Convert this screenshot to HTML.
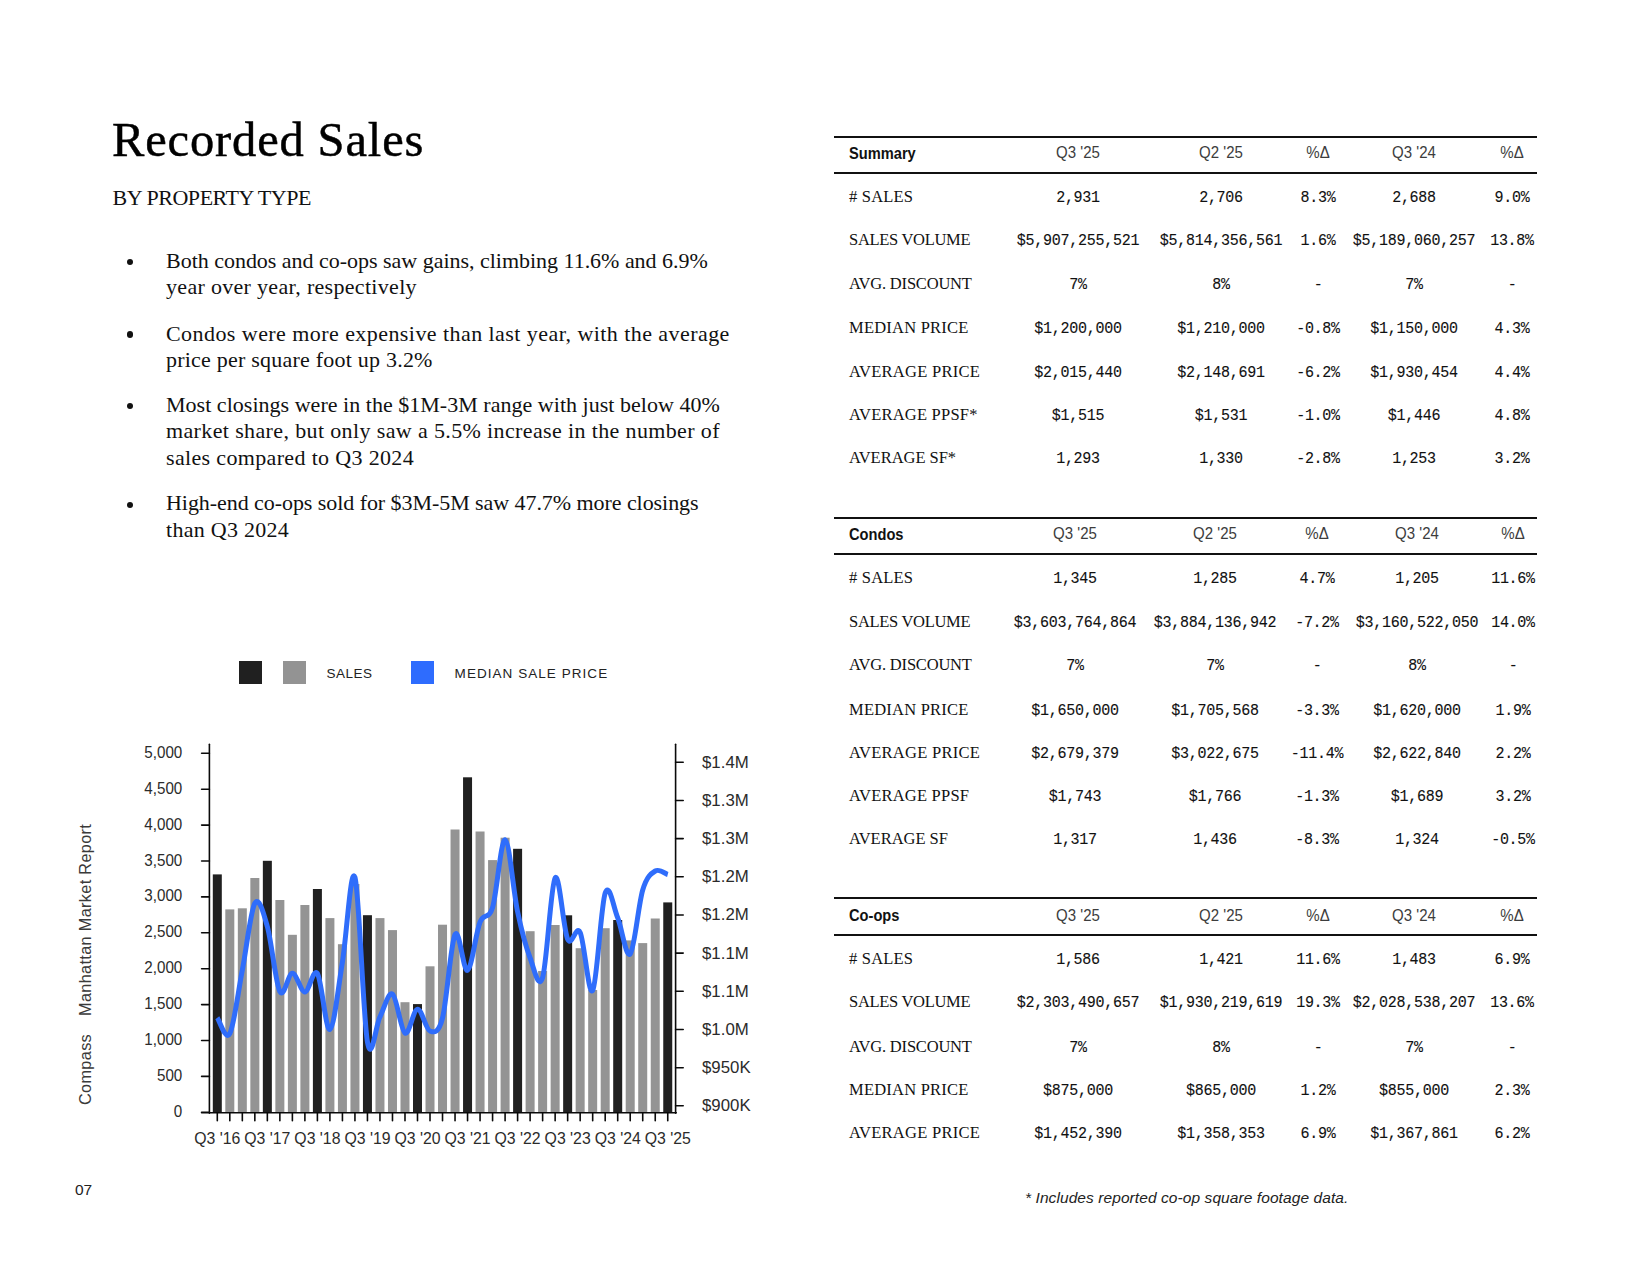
<!DOCTYPE html>
<html lang="en"><head><meta charset="utf-8"><title>Recorded Sales</title>
<style>
html,body{margin:0;padding:0;background:#fff;}
body{width:1650px;height:1275px;position:relative;overflow:hidden;font-family:"Liberation Sans",sans-serif;}
.t{position:absolute;white-space:pre;margin:0;}
.bul{list-style:none;margin:0;padding:0;}
.dot{position:absolute;width:6.4px;height:6.4px;border-radius:50%;background:#111;}
.sq{position:absolute;width:22.9px;height:22.7px;}
.chart{position:absolute;left:100px;top:720px;}
.vert{transform-origin:0 0;transform:rotate(-90deg);}
.rule{position:absolute;left:834.4px;width:703px;height:2px;background:#111;}
</style></head><body>
<h1 class="t" style="margin:0;left:112px;top:115.2px;font-family:'Liberation Serif',serif;font-size:48.5px;line-height:50px;font-weight:normal;letter-spacing:0.85px;color:#000;-webkit-text-stroke:0.45px #000">Recorded Sales</h1>
<h2 class="t" style="margin:0;left:112.5px;top:184.8px;font-family:'Liberation Serif',serif;font-size:22px;line-height:26px;font-weight:normal;letter-spacing:-0.45px;color:#111">BY PROPERTY TYPE</h2>
<ul class="bul">
<li>
<span class="dot" style="left:126.5px;top:259.1px"></span>
<div class="t " style="left:166.00px;top:248.10px;font-family:'Liberation Serif',serif;font-size:22px;line-height:26px;color:#111;letter-spacing:-0.021px">Both condos and co-ops saw gains, climbing 11.6% and 6.9%</div>
<div class="t " style="left:166.00px;top:273.70px;font-family:'Liberation Serif',serif;font-size:22px;line-height:26px;color:#111;letter-spacing:0.311px">year over year, respectively</div>
</li>
<li>
<span class="dot" style="left:126.5px;top:331.4px"></span>
<div class="t " style="left:166.00px;top:320.80px;font-family:'Liberation Serif',serif;font-size:22px;line-height:26px;color:#111;letter-spacing:0.438px">Condos were more expensive than last year, with the average</div>
<div class="t " style="left:166.00px;top:347.10px;font-family:'Liberation Serif',serif;font-size:22px;line-height:26px;color:#111;letter-spacing:0.221px">price per square foot up 3.2%</div>
</li>
<li>
<span class="dot" style="left:126.5px;top:403.1px"></span>
<div class="t " style="left:166.00px;top:391.70px;font-family:'Liberation Serif',serif;font-size:22px;line-height:26px;color:#111;letter-spacing:0.025px">Most closings were in the $1M-3M range with just below 40%</div>
<div class="t " style="left:166.00px;top:418.10px;font-family:'Liberation Serif',serif;font-size:22px;line-height:26px;color:#111;letter-spacing:0.369px">market share, but only saw a 5.5% increase in the number of</div>
<div class="t " style="left:166.00px;top:444.50px;font-family:'Liberation Serif',serif;font-size:22px;line-height:26px;color:#111;letter-spacing:0.342px">sales compared to Q3 2024</div>
</li>
<li>
<span class="dot" style="left:126.5px;top:501.6px"></span>
<div class="t " style="left:166.00px;top:490.10px;font-family:'Liberation Serif',serif;font-size:22px;line-height:26px;color:#111;letter-spacing:-0.061px">High-end co-ops sold for $3M-5M saw 47.7% more closings</div>
<div class="t " style="left:166.00px;top:516.60px;font-family:'Liberation Serif',serif;font-size:22px;line-height:26px;color:#111;letter-spacing:0.282px">than Q3 2024</div>
</li>
</ul>
<div class="legend">
<span class="sq" style="left:239.1px;top:661.1px;background:#202020"></span>
<span class="sq" style="left:283px;top:661.1px;background:#939393"></span>
<span class="sq" style="left:411px;top:661.1px;background:#2e6cfe"></span>
<div class="t " style="left:326.60px;top:664.00px;font-family:'Liberation Sans',sans-serif;font-size:13.5px;line-height:20px;letter-spacing:0.5px;color:#222">SALES</div>
<div class="t " style="left:454.60px;top:664.00px;font-family:'Liberation Sans',sans-serif;font-size:13.5px;line-height:20px;letter-spacing:1.05px;color:#222">MEDIAN SALE PRICE</div>
</div>
<svg class="chart" width="700" height="460" viewBox="100 720 700 460">
<rect x="212.80" y="874.4" width="9.0" height="238.2" fill="#202020"/>
<rect x="225.31" y="909.4" width="9.0" height="203.2" fill="#949494"/>
<rect x="237.83" y="908.3" width="9.0" height="204.3" fill="#949494"/>
<rect x="250.34" y="878.0" width="9.0" height="234.6" fill="#949494"/>
<rect x="262.85" y="860.8" width="9.0" height="251.8" fill="#202020"/>
<rect x="275.36" y="900.0" width="9.0" height="212.6" fill="#949494"/>
<rect x="287.88" y="934.8" width="9.0" height="177.8" fill="#949494"/>
<rect x="300.39" y="905.0" width="9.0" height="207.6" fill="#949494"/>
<rect x="312.90" y="889.0" width="9.0" height="223.6" fill="#202020"/>
<rect x="325.41" y="918.1" width="9.0" height="194.5" fill="#949494"/>
<rect x="337.93" y="944.2" width="9.0" height="168.4" fill="#949494"/>
<rect x="350.44" y="884.0" width="9.0" height="228.6" fill="#949494"/>
<rect x="362.95" y="915.2" width="9.0" height="197.4" fill="#202020"/>
<rect x="375.46" y="918.1" width="9.0" height="194.5" fill="#949494"/>
<rect x="387.98" y="930.1" width="9.0" height="182.5" fill="#949494"/>
<rect x="400.49" y="1002.2" width="9.0" height="110.4" fill="#949494"/>
<rect x="413.00" y="1004.1" width="9.0" height="108.5" fill="#202020"/>
<rect x="425.51" y="966.3" width="9.0" height="146.3" fill="#949494"/>
<rect x="438.02" y="924.7" width="9.0" height="187.9" fill="#949494"/>
<rect x="450.54" y="829.5" width="9.0" height="283.1" fill="#949494"/>
<rect x="463.05" y="777.3" width="9.0" height="335.3" fill="#202020"/>
<rect x="475.56" y="831.5" width="9.0" height="281.1" fill="#949494"/>
<rect x="488.07" y="860.1" width="9.0" height="252.5" fill="#949494"/>
<rect x="500.59" y="837.7" width="9.0" height="274.9" fill="#949494"/>
<rect x="513.10" y="848.8" width="9.0" height="263.8" fill="#202020"/>
<rect x="525.61" y="931.2" width="9.0" height="181.4" fill="#949494"/>
<rect x="538.12" y="971.0" width="9.0" height="141.6" fill="#949494"/>
<rect x="550.64" y="925.0" width="9.0" height="187.6" fill="#949494"/>
<rect x="563.15" y="915.3" width="9.0" height="197.3" fill="#202020"/>
<rect x="575.66" y="948.2" width="9.0" height="164.4" fill="#949494"/>
<rect x="588.17" y="990.0" width="9.0" height="122.6" fill="#949494"/>
<rect x="600.69" y="928.2" width="9.0" height="184.4" fill="#949494"/>
<rect x="613.20" y="920.0" width="9.0" height="192.6" fill="#202020"/>
<rect x="625.71" y="940.4" width="9.0" height="172.2" fill="#949494"/>
<rect x="638.22" y="943.1" width="9.0" height="169.5" fill="#949494"/>
<rect x="650.74" y="918.5" width="9.0" height="194.1" fill="#949494"/>
<rect x="663.25" y="902.4" width="9.0" height="210.2" fill="#202020"/>
<g stroke="#0a0a0a" stroke-width="1.6" fill="none" stroke-linecap="round">
<line x1="209.4" y1="744.2" x2="209.4" y2="1113.3"/>
<line x1="675.6" y1="744.2" x2="675.6" y2="1113.3"/>
<line x1="201.6" y1="1112.8" x2="676.3" y2="1112.8"/>
<line x1="201.6" y1="753.3" x2="209.4" y2="753.3"/>
<line x1="201.6" y1="789.2" x2="209.4" y2="789.2"/>
<line x1="201.6" y1="825.1" x2="209.4" y2="825.1"/>
<line x1="201.6" y1="861.0" x2="209.4" y2="861.0"/>
<line x1="201.6" y1="896.9" x2="209.4" y2="896.9"/>
<line x1="201.6" y1="932.8" x2="209.4" y2="932.8"/>
<line x1="201.6" y1="968.7" x2="209.4" y2="968.7"/>
<line x1="201.6" y1="1004.6" x2="209.4" y2="1004.6"/>
<line x1="201.6" y1="1040.5" x2="209.4" y2="1040.5"/>
<line x1="201.6" y1="1076.4" x2="209.4" y2="1076.4"/>
<line x1="201.6" y1="1112.3" x2="209.4" y2="1112.3"/>
<line x1="675.6" y1="762.3" x2="683.2" y2="762.3"/>
<line x1="675.6" y1="800.5" x2="683.2" y2="800.5"/>
<line x1="675.6" y1="838.6" x2="683.2" y2="838.6"/>
<line x1="675.6" y1="876.8" x2="683.2" y2="876.8"/>
<line x1="675.6" y1="915.0" x2="683.2" y2="915.0"/>
<line x1="675.6" y1="953.1" x2="683.2" y2="953.1"/>
<line x1="675.6" y1="991.3" x2="683.2" y2="991.3"/>
<line x1="675.6" y1="1029.5" x2="683.2" y2="1029.5"/>
<line x1="675.6" y1="1067.7" x2="683.2" y2="1067.7"/>
<line x1="675.6" y1="1105.8" x2="683.2" y2="1105.8"/>
<line x1="217.30" y1="1113" x2="217.30" y2="1120.8"/>
<line x1="229.81" y1="1113" x2="229.81" y2="1120.8"/>
<line x1="242.33" y1="1113" x2="242.33" y2="1120.8"/>
<line x1="254.84" y1="1113" x2="254.84" y2="1120.8"/>
<line x1="267.35" y1="1113" x2="267.35" y2="1120.8"/>
<line x1="279.86" y1="1113" x2="279.86" y2="1120.8"/>
<line x1="292.38" y1="1113" x2="292.38" y2="1120.8"/>
<line x1="304.89" y1="1113" x2="304.89" y2="1120.8"/>
<line x1="317.40" y1="1113" x2="317.40" y2="1120.8"/>
<line x1="329.91" y1="1113" x2="329.91" y2="1120.8"/>
<line x1="342.43" y1="1113" x2="342.43" y2="1120.8"/>
<line x1="354.94" y1="1113" x2="354.94" y2="1120.8"/>
<line x1="367.45" y1="1113" x2="367.45" y2="1120.8"/>
<line x1="379.96" y1="1113" x2="379.96" y2="1120.8"/>
<line x1="392.48" y1="1113" x2="392.48" y2="1120.8"/>
<line x1="404.99" y1="1113" x2="404.99" y2="1120.8"/>
<line x1="417.50" y1="1113" x2="417.50" y2="1120.8"/>
<line x1="430.01" y1="1113" x2="430.01" y2="1120.8"/>
<line x1="442.52" y1="1113" x2="442.52" y2="1120.8"/>
<line x1="455.04" y1="1113" x2="455.04" y2="1120.8"/>
<line x1="467.55" y1="1113" x2="467.55" y2="1120.8"/>
<line x1="480.06" y1="1113" x2="480.06" y2="1120.8"/>
<line x1="492.57" y1="1113" x2="492.57" y2="1120.8"/>
<line x1="505.09" y1="1113" x2="505.09" y2="1120.8"/>
<line x1="517.60" y1="1113" x2="517.60" y2="1120.8"/>
<line x1="530.11" y1="1113" x2="530.11" y2="1120.8"/>
<line x1="542.62" y1="1113" x2="542.62" y2="1120.8"/>
<line x1="555.14" y1="1113" x2="555.14" y2="1120.8"/>
<line x1="567.65" y1="1113" x2="567.65" y2="1120.8"/>
<line x1="580.16" y1="1113" x2="580.16" y2="1120.8"/>
<line x1="592.67" y1="1113" x2="592.67" y2="1120.8"/>
<line x1="605.19" y1="1113" x2="605.19" y2="1120.8"/>
<line x1="617.70" y1="1113" x2="617.70" y2="1120.8"/>
<line x1="630.21" y1="1113" x2="630.21" y2="1120.8"/>
<line x1="642.72" y1="1113" x2="642.72" y2="1120.8"/>
<line x1="655.24" y1="1113" x2="655.24" y2="1120.8"/>
<line x1="667.75" y1="1113" x2="667.75" y2="1120.8"/>
</g>
<path d="M217.30,1017.70 C219.39,1020.35 225.64,1041.55 229.81,1033.60 C233.98,1025.65 238.15,991.72 242.33,970.00 C246.50,948.28 250.67,910.53 254.84,903.30 C259.01,896.07 263.18,911.90 267.35,926.60 C271.52,941.30 275.69,983.73 279.86,991.50 C284.03,999.27 288.20,973.12 292.38,973.20 C296.55,973.28 300.72,991.95 304.89,992.00 C309.06,992.05 313.23,967.25 317.40,973.50 C321.57,979.75 325.74,1031.42 329.91,1029.50 C334.08,1027.58 338.25,987.37 342.43,962.00 C346.60,936.63 350.77,863.97 354.94,877.30 C359.11,890.63 363.28,1018.73 367.45,1042.00 C371.62,1065.27 375.79,1024.90 379.96,1016.90 C384.13,1008.90 388.30,991.32 392.48,994.00 C396.65,996.68 400.82,1030.47 404.99,1033.00 C409.16,1035.53 413.33,1009.53 417.50,1009.20 C421.67,1008.87 425.84,1029.53 430.01,1031.00 C434.18,1032.47 438.35,1034.08 442.52,1018.00 C446.70,1001.92 450.87,942.45 455.04,934.50 C459.21,926.55 463.38,972.38 467.55,970.30 C471.72,968.22 475.89,932.47 480.06,922.00 C484.23,911.53 488.40,921.20 492.57,907.50 C496.75,893.80 500.92,839.08 505.09,839.80 C509.26,840.52 513.43,892.10 517.60,911.80 C521.77,931.50 525.94,947.05 530.11,958.00 C534.28,968.95 538.45,990.85 542.62,977.50 C546.80,964.15 550.97,884.30 555.14,877.90 C559.31,871.50 563.48,930.00 567.65,939.10 C571.82,948.20 575.99,923.93 580.16,932.50 C584.33,941.07 588.50,997.08 592.67,990.50 C596.85,983.92 601.02,905.12 605.19,893.00 C609.36,880.88 613.53,907.63 617.70,917.80 C621.87,927.97 626.04,958.63 630.21,954.00 C634.38,949.37 638.55,903.83 642.72,890.00 C646.90,876.17 651.07,873.58 655.24,871.00 C659.41,868.42 665.66,873.92 667.75,874.50" fill="none" stroke="#2f6dfb" stroke-width="5" stroke-linejoin="round"/>
<g font-family="Liberation Sans, sans-serif" font-size="16.5" fill="#2b2b2b">
<text transform="translate(182.3,757.8) scale(0.92,1)" text-anchor="end">5,000</text>
<text transform="translate(182.3,793.7) scale(0.92,1)" text-anchor="end">4,500</text>
<text transform="translate(182.3,829.6) scale(0.92,1)" text-anchor="end">4,000</text>
<text transform="translate(182.3,865.5) scale(0.92,1)" text-anchor="end">3,500</text>
<text transform="translate(182.3,901.4) scale(0.92,1)" text-anchor="end">3,000</text>
<text transform="translate(182.3,937.3) scale(0.92,1)" text-anchor="end">2,500</text>
<text transform="translate(182.3,973.2) scale(0.92,1)" text-anchor="end">2,000</text>
<text transform="translate(182.3,1009.1) scale(0.92,1)" text-anchor="end">1,500</text>
<text transform="translate(182.3,1045.0) scale(0.92,1)" text-anchor="end">1,000</text>
<text transform="translate(182.3,1080.9) scale(0.92,1)" text-anchor="end">500</text>
<text transform="translate(182.3,1116.8) scale(0.92,1)" text-anchor="end">0</text>
<text transform="translate(702,767.7) scale(1.02,1)">$1.4M</text>
<text transform="translate(702,805.9) scale(1.02,1)">$1.3M</text>
<text transform="translate(702,844.0) scale(1.02,1)">$1.3M</text>
<text transform="translate(702,882.2) scale(1.02,1)">$1.2M</text>
<text transform="translate(702,920.4) scale(1.02,1)">$1.2M</text>
<text transform="translate(702,958.5) scale(1.02,1)">$1.1M</text>
<text transform="translate(702,996.7) scale(1.02,1)">$1.1M</text>
<text transform="translate(702,1034.9) scale(1.02,1)">$1.0M</text>
<text transform="translate(702,1073.1) scale(1.02,1)">$950K</text>
<text transform="translate(702,1111.2) scale(1.02,1)">$900K</text>
<text transform="translate(217.30,1143.8) scale(0.96,1)" text-anchor="middle">Q3 &#39;16</text>
<text transform="translate(267.35,1143.8) scale(0.96,1)" text-anchor="middle">Q3 &#39;17</text>
<text transform="translate(317.40,1143.8) scale(0.96,1)" text-anchor="middle">Q3 &#39;18</text>
<text transform="translate(367.45,1143.8) scale(0.96,1)" text-anchor="middle">Q3 &#39;19</text>
<text transform="translate(417.50,1143.8) scale(0.96,1)" text-anchor="middle">Q3 &#39;20</text>
<text transform="translate(467.55,1143.8) scale(0.96,1)" text-anchor="middle">Q3 &#39;21</text>
<text transform="translate(517.60,1143.8) scale(0.96,1)" text-anchor="middle">Q3 &#39;22</text>
<text transform="translate(567.65,1143.8) scale(0.96,1)" text-anchor="middle">Q3 &#39;23</text>
<text transform="translate(617.70,1143.8) scale(0.96,1)" text-anchor="middle">Q3 &#39;24</text>
<text transform="translate(667.75,1143.8) scale(0.96,1)" text-anchor="middle">Q3 &#39;25</text>
</g></svg>
<div class="t vert" style="left:75.2px;top:1015.5px;font-family:'Liberation Sans',sans-serif;font-size:16.3px;line-height:20px;letter-spacing:0.33px;color:#3a3a3a">Manhattan Market Report</div>
<div class="t vert" style="left:75.2px;top:1104.5px;font-family:'Liberation Sans',sans-serif;font-size:16.3px;line-height:20px;letter-spacing:0.33px;color:#3a3a3a">Compass</div>
<div class="t " style="left:75.00px;top:1180.10px;font-family:'Liberation Sans',sans-serif;font-size:15.5px;line-height:20px;color:#222">07</div>
<div class="tbl">
<div class="rule" style="top:136px"></div>
<div class="rule" style="top:172px"></div>
<div class="t " style="left:849.00px;top:143.50px;font-family:'Liberation Sans',sans-serif;font-size:16px;line-height:20px;font-weight:bold;color:#111;transform:scaleX(0.915);transform-origin:0 0">Summary</div>
<div class="t" style="left:928.10px;width:300px;text-align:center;top:142.70px;font-family:'Liberation Sans',sans-serif;font-size:16.7px;line-height:20px;color:#3d3d3d;transform:scaleX(0.9)">Q3 &#39;25</div>
<div class="t" style="left:1071.00px;width:300px;text-align:center;top:142.70px;font-family:'Liberation Sans',sans-serif;font-size:16.7px;line-height:20px;color:#3d3d3d;transform:scaleX(0.9)">Q2 &#39;25</div>
<div class="t" style="left:1167.80px;width:300px;text-align:center;top:142.70px;font-family:'Liberation Sans',sans-serif;font-size:16.7px;line-height:20px;color:#3d3d3d;transform:scaleX(0.9)">%Δ</div>
<div class="t" style="left:1264.40px;width:300px;text-align:center;top:142.70px;font-family:'Liberation Sans',sans-serif;font-size:16.7px;line-height:20px;color:#3d3d3d;transform:scaleX(0.9)">Q3 &#39;24</div>
<div class="t" style="left:1362.20px;width:300px;text-align:center;top:142.70px;font-family:'Liberation Sans',sans-serif;font-size:16.7px;line-height:20px;color:#3d3d3d;transform:scaleX(0.9)">%Δ</div>
<div class="t " style="left:849.00px;top:186.90px;font-family:'Liberation Serif',serif;font-size:16.5px;line-height:20px;letter-spacing:0.20px;color:#111"># SALES</div>
<div class="t" style="left:928.10px;width:300px;text-align:center;top:187.90px;font-family:'Liberation Mono',monospace;font-size:16.7px;line-height:20px;letter-spacing:-0.3px;color:#111;transform:scaleX(0.9);-webkit-text-stroke:0.12px #111">2,931</div>
<div class="t" style="left:1071.00px;width:300px;text-align:center;top:187.90px;font-family:'Liberation Mono',monospace;font-size:16.7px;line-height:20px;letter-spacing:-0.3px;color:#111;transform:scaleX(0.9);-webkit-text-stroke:0.12px #111">2,706</div>
<div class="t" style="left:1167.80px;width:300px;text-align:center;top:187.90px;font-family:'Liberation Mono',monospace;font-size:16.7px;line-height:20px;letter-spacing:-0.3px;color:#111;transform:scaleX(0.9);-webkit-text-stroke:0.12px #111">8.3%</div>
<div class="t" style="left:1264.40px;width:300px;text-align:center;top:187.90px;font-family:'Liberation Mono',monospace;font-size:16.7px;line-height:20px;letter-spacing:-0.3px;color:#111;transform:scaleX(0.9);-webkit-text-stroke:0.12px #111">2,688</div>
<div class="t" style="left:1362.20px;width:300px;text-align:center;top:187.90px;font-family:'Liberation Mono',monospace;font-size:16.7px;line-height:20px;letter-spacing:-0.3px;color:#111;transform:scaleX(0.9);-webkit-text-stroke:0.12px #111">9.0%</div>
<div class="t " style="left:849.00px;top:229.80px;font-family:'Liberation Serif',serif;font-size:16.5px;line-height:20px;letter-spacing:-0.30px;color:#111">SALES VOLUME</div>
<div class="t" style="left:928.10px;width:300px;text-align:center;top:230.80px;font-family:'Liberation Mono',monospace;font-size:16.7px;line-height:20px;letter-spacing:-0.3px;color:#111;transform:scaleX(0.9);-webkit-text-stroke:0.12px #111">$5,907,255,521</div>
<div class="t" style="left:1071.00px;width:300px;text-align:center;top:230.80px;font-family:'Liberation Mono',monospace;font-size:16.7px;line-height:20px;letter-spacing:-0.3px;color:#111;transform:scaleX(0.9);-webkit-text-stroke:0.12px #111">$5,814,356,561</div>
<div class="t" style="left:1167.80px;width:300px;text-align:center;top:230.80px;font-family:'Liberation Mono',monospace;font-size:16.7px;line-height:20px;letter-spacing:-0.3px;color:#111;transform:scaleX(0.9);-webkit-text-stroke:0.12px #111">1.6%</div>
<div class="t" style="left:1264.40px;width:300px;text-align:center;top:230.80px;font-family:'Liberation Mono',monospace;font-size:16.7px;line-height:20px;letter-spacing:-0.3px;color:#111;transform:scaleX(0.9);-webkit-text-stroke:0.12px #111">$5,189,060,257</div>
<div class="t" style="left:1362.20px;width:300px;text-align:center;top:230.80px;font-family:'Liberation Mono',monospace;font-size:16.7px;line-height:20px;letter-spacing:-0.3px;color:#111;transform:scaleX(0.9);-webkit-text-stroke:0.12px #111">13.8%</div>
<div class="t " style="left:849.00px;top:273.80px;font-family:'Liberation Serif',serif;font-size:16.5px;line-height:20px;letter-spacing:-0.20px;color:#111">AVG. DISCOUNT</div>
<div class="t" style="left:928.10px;width:300px;text-align:center;top:274.80px;font-family:'Liberation Mono',monospace;font-size:16.7px;line-height:20px;letter-spacing:-0.3px;color:#111;transform:scaleX(0.9);-webkit-text-stroke:0.12px #111">7%</div>
<div class="t" style="left:1071.00px;width:300px;text-align:center;top:274.80px;font-family:'Liberation Mono',monospace;font-size:16.7px;line-height:20px;letter-spacing:-0.3px;color:#111;transform:scaleX(0.9);-webkit-text-stroke:0.12px #111">8%</div>
<div class="t" style="left:1167.80px;width:300px;text-align:center;top:274.80px;font-family:'Liberation Mono',monospace;font-size:16.7px;line-height:20px;letter-spacing:-0.3px;color:#111;transform:scaleX(0.9);-webkit-text-stroke:0.12px #111">-</div>
<div class="t" style="left:1264.40px;width:300px;text-align:center;top:274.80px;font-family:'Liberation Mono',monospace;font-size:16.7px;line-height:20px;letter-spacing:-0.3px;color:#111;transform:scaleX(0.9);-webkit-text-stroke:0.12px #111">7%</div>
<div class="t" style="left:1362.20px;width:300px;text-align:center;top:274.80px;font-family:'Liberation Mono',monospace;font-size:16.7px;line-height:20px;letter-spacing:-0.3px;color:#111;transform:scaleX(0.9);-webkit-text-stroke:0.12px #111">-</div>
<div class="t " style="left:849.00px;top:317.70px;font-family:'Liberation Serif',serif;font-size:16.5px;line-height:20px;letter-spacing:0.22px;color:#111">MEDIAN PRICE</div>
<div class="t" style="left:928.10px;width:300px;text-align:center;top:318.70px;font-family:'Liberation Mono',monospace;font-size:16.7px;line-height:20px;letter-spacing:-0.3px;color:#111;transform:scaleX(0.9);-webkit-text-stroke:0.12px #111">$1,200,000</div>
<div class="t" style="left:1071.00px;width:300px;text-align:center;top:318.70px;font-family:'Liberation Mono',monospace;font-size:16.7px;line-height:20px;letter-spacing:-0.3px;color:#111;transform:scaleX(0.9);-webkit-text-stroke:0.12px #111">$1,210,000</div>
<div class="t" style="left:1167.80px;width:300px;text-align:center;top:318.70px;font-family:'Liberation Mono',monospace;font-size:16.7px;line-height:20px;letter-spacing:-0.3px;color:#111;transform:scaleX(0.9);-webkit-text-stroke:0.12px #111">-0.8%</div>
<div class="t" style="left:1264.40px;width:300px;text-align:center;top:318.70px;font-family:'Liberation Mono',monospace;font-size:16.7px;line-height:20px;letter-spacing:-0.3px;color:#111;transform:scaleX(0.9);-webkit-text-stroke:0.12px #111">$1,150,000</div>
<div class="t" style="left:1362.20px;width:300px;text-align:center;top:318.70px;font-family:'Liberation Mono',monospace;font-size:16.7px;line-height:20px;letter-spacing:-0.3px;color:#111;transform:scaleX(0.9);-webkit-text-stroke:0.12px #111">4.3%</div>
<div class="t " style="left:849.00px;top:361.90px;font-family:'Liberation Serif',serif;font-size:16.5px;line-height:20px;letter-spacing:0.27px;color:#111">AVERAGE PRICE</div>
<div class="t" style="left:928.10px;width:300px;text-align:center;top:362.90px;font-family:'Liberation Mono',monospace;font-size:16.7px;line-height:20px;letter-spacing:-0.3px;color:#111;transform:scaleX(0.9);-webkit-text-stroke:0.12px #111">$2,015,440</div>
<div class="t" style="left:1071.00px;width:300px;text-align:center;top:362.90px;font-family:'Liberation Mono',monospace;font-size:16.7px;line-height:20px;letter-spacing:-0.3px;color:#111;transform:scaleX(0.9);-webkit-text-stroke:0.12px #111">$2,148,691</div>
<div class="t" style="left:1167.80px;width:300px;text-align:center;top:362.90px;font-family:'Liberation Mono',monospace;font-size:16.7px;line-height:20px;letter-spacing:-0.3px;color:#111;transform:scaleX(0.9);-webkit-text-stroke:0.12px #111">-6.2%</div>
<div class="t" style="left:1264.40px;width:300px;text-align:center;top:362.90px;font-family:'Liberation Mono',monospace;font-size:16.7px;line-height:20px;letter-spacing:-0.3px;color:#111;transform:scaleX(0.9);-webkit-text-stroke:0.12px #111">$1,930,454</div>
<div class="t" style="left:1362.20px;width:300px;text-align:center;top:362.90px;font-family:'Liberation Mono',monospace;font-size:16.7px;line-height:20px;letter-spacing:-0.3px;color:#111;transform:scaleX(0.9);-webkit-text-stroke:0.12px #111">4.4%</div>
<div class="t " style="left:849.00px;top:404.50px;font-family:'Liberation Serif',serif;font-size:16.5px;line-height:20px;letter-spacing:0.22px;color:#111">AVERAGE PPSF*</div>
<div class="t" style="left:928.10px;width:300px;text-align:center;top:405.50px;font-family:'Liberation Mono',monospace;font-size:16.7px;line-height:20px;letter-spacing:-0.3px;color:#111;transform:scaleX(0.9);-webkit-text-stroke:0.12px #111">$1,515</div>
<div class="t" style="left:1071.00px;width:300px;text-align:center;top:405.50px;font-family:'Liberation Mono',monospace;font-size:16.7px;line-height:20px;letter-spacing:-0.3px;color:#111;transform:scaleX(0.9);-webkit-text-stroke:0.12px #111">$1,531</div>
<div class="t" style="left:1167.80px;width:300px;text-align:center;top:405.50px;font-family:'Liberation Mono',monospace;font-size:16.7px;line-height:20px;letter-spacing:-0.3px;color:#111;transform:scaleX(0.9);-webkit-text-stroke:0.12px #111">-1.0%</div>
<div class="t" style="left:1264.40px;width:300px;text-align:center;top:405.50px;font-family:'Liberation Mono',monospace;font-size:16.7px;line-height:20px;letter-spacing:-0.3px;color:#111;transform:scaleX(0.9);-webkit-text-stroke:0.12px #111">$1,446</div>
<div class="t" style="left:1362.20px;width:300px;text-align:center;top:405.50px;font-family:'Liberation Mono',monospace;font-size:16.7px;line-height:20px;letter-spacing:-0.3px;color:#111;transform:scaleX(0.9);-webkit-text-stroke:0.12px #111">4.8%</div>
<div class="t " style="left:849.00px;top:447.80px;font-family:'Liberation Serif',serif;font-size:16.5px;line-height:20px;letter-spacing:-0.04px;color:#111">AVERAGE SF*</div>
<div class="t" style="left:928.10px;width:300px;text-align:center;top:448.80px;font-family:'Liberation Mono',monospace;font-size:16.7px;line-height:20px;letter-spacing:-0.3px;color:#111;transform:scaleX(0.9);-webkit-text-stroke:0.12px #111">1,293</div>
<div class="t" style="left:1071.00px;width:300px;text-align:center;top:448.80px;font-family:'Liberation Mono',monospace;font-size:16.7px;line-height:20px;letter-spacing:-0.3px;color:#111;transform:scaleX(0.9);-webkit-text-stroke:0.12px #111">1,330</div>
<div class="t" style="left:1167.80px;width:300px;text-align:center;top:448.80px;font-family:'Liberation Mono',monospace;font-size:16.7px;line-height:20px;letter-spacing:-0.3px;color:#111;transform:scaleX(0.9);-webkit-text-stroke:0.12px #111">-2.8%</div>
<div class="t" style="left:1264.40px;width:300px;text-align:center;top:448.80px;font-family:'Liberation Mono',monospace;font-size:16.7px;line-height:20px;letter-spacing:-0.3px;color:#111;transform:scaleX(0.9);-webkit-text-stroke:0.12px #111">1,253</div>
<div class="t" style="left:1362.20px;width:300px;text-align:center;top:448.80px;font-family:'Liberation Mono',monospace;font-size:16.7px;line-height:20px;letter-spacing:-0.3px;color:#111;transform:scaleX(0.9);-webkit-text-stroke:0.12px #111">3.2%</div>
</div>
<div class="tbl">
<div class="rule" style="top:517px"></div>
<div class="rule" style="top:553px"></div>
<div class="t " style="left:849.00px;top:525.20px;font-family:'Liberation Sans',sans-serif;font-size:16px;line-height:20px;font-weight:bold;color:#111;transform:scaleX(0.915);transform-origin:0 0">Condos</div>
<div class="t" style="left:924.50px;width:300px;text-align:center;top:524.40px;font-family:'Liberation Sans',sans-serif;font-size:16.7px;line-height:20px;color:#3d3d3d;transform:scaleX(0.9)">Q3 &#39;25</div>
<div class="t" style="left:1065.30px;width:300px;text-align:center;top:524.40px;font-family:'Liberation Sans',sans-serif;font-size:16.7px;line-height:20px;color:#3d3d3d;transform:scaleX(0.9)">Q2 &#39;25</div>
<div class="t" style="left:1166.70px;width:300px;text-align:center;top:524.40px;font-family:'Liberation Sans',sans-serif;font-size:16.7px;line-height:20px;color:#3d3d3d;transform:scaleX(0.9)">%Δ</div>
<div class="t" style="left:1266.70px;width:300px;text-align:center;top:524.40px;font-family:'Liberation Sans',sans-serif;font-size:16.7px;line-height:20px;color:#3d3d3d;transform:scaleX(0.9)">Q3 &#39;24</div>
<div class="t" style="left:1362.60px;width:300px;text-align:center;top:524.40px;font-family:'Liberation Sans',sans-serif;font-size:16.7px;line-height:20px;color:#3d3d3d;transform:scaleX(0.9)">%Δ</div>
<div class="t " style="left:849.00px;top:567.50px;font-family:'Liberation Serif',serif;font-size:16.5px;line-height:20px;letter-spacing:0.20px;color:#111"># SALES</div>
<div class="t" style="left:924.50px;width:300px;text-align:center;top:568.50px;font-family:'Liberation Mono',monospace;font-size:16.7px;line-height:20px;letter-spacing:-0.3px;color:#111;transform:scaleX(0.9);-webkit-text-stroke:0.12px #111">1,345</div>
<div class="t" style="left:1065.30px;width:300px;text-align:center;top:568.50px;font-family:'Liberation Mono',monospace;font-size:16.7px;line-height:20px;letter-spacing:-0.3px;color:#111;transform:scaleX(0.9);-webkit-text-stroke:0.12px #111">1,285</div>
<div class="t" style="left:1166.70px;width:300px;text-align:center;top:568.50px;font-family:'Liberation Mono',monospace;font-size:16.7px;line-height:20px;letter-spacing:-0.3px;color:#111;transform:scaleX(0.9);-webkit-text-stroke:0.12px #111">4.7%</div>
<div class="t" style="left:1266.70px;width:300px;text-align:center;top:568.50px;font-family:'Liberation Mono',monospace;font-size:16.7px;line-height:20px;letter-spacing:-0.3px;color:#111;transform:scaleX(0.9);-webkit-text-stroke:0.12px #111">1,205</div>
<div class="t" style="left:1362.60px;width:300px;text-align:center;top:568.50px;font-family:'Liberation Mono',monospace;font-size:16.7px;line-height:20px;letter-spacing:-0.3px;color:#111;transform:scaleX(0.9);-webkit-text-stroke:0.12px #111">11.6%</div>
<div class="t " style="left:849.00px;top:611.60px;font-family:'Liberation Serif',serif;font-size:16.5px;line-height:20px;letter-spacing:-0.30px;color:#111">SALES VOLUME</div>
<div class="t" style="left:924.50px;width:300px;text-align:center;top:612.60px;font-family:'Liberation Mono',monospace;font-size:16.7px;line-height:20px;letter-spacing:-0.3px;color:#111;transform:scaleX(0.9);-webkit-text-stroke:0.12px #111">$3,603,764,864</div>
<div class="t" style="left:1065.30px;width:300px;text-align:center;top:612.60px;font-family:'Liberation Mono',monospace;font-size:16.7px;line-height:20px;letter-spacing:-0.3px;color:#111;transform:scaleX(0.9);-webkit-text-stroke:0.12px #111">$3,884,136,942</div>
<div class="t" style="left:1166.70px;width:300px;text-align:center;top:612.60px;font-family:'Liberation Mono',monospace;font-size:16.7px;line-height:20px;letter-spacing:-0.3px;color:#111;transform:scaleX(0.9);-webkit-text-stroke:0.12px #111">-7.2%</div>
<div class="t" style="left:1266.70px;width:300px;text-align:center;top:612.60px;font-family:'Liberation Mono',monospace;font-size:16.7px;line-height:20px;letter-spacing:-0.3px;color:#111;transform:scaleX(0.9);-webkit-text-stroke:0.12px #111">$3,160,522,050</div>
<div class="t" style="left:1362.60px;width:300px;text-align:center;top:612.60px;font-family:'Liberation Mono',monospace;font-size:16.7px;line-height:20px;letter-spacing:-0.3px;color:#111;transform:scaleX(0.9);-webkit-text-stroke:0.12px #111">14.0%</div>
<div class="t " style="left:849.00px;top:655.30px;font-family:'Liberation Serif',serif;font-size:16.5px;line-height:20px;letter-spacing:-0.20px;color:#111">AVG. DISCOUNT</div>
<div class="t" style="left:924.50px;width:300px;text-align:center;top:656.30px;font-family:'Liberation Mono',monospace;font-size:16.7px;line-height:20px;letter-spacing:-0.3px;color:#111;transform:scaleX(0.9);-webkit-text-stroke:0.12px #111">7%</div>
<div class="t" style="left:1065.30px;width:300px;text-align:center;top:656.30px;font-family:'Liberation Mono',monospace;font-size:16.7px;line-height:20px;letter-spacing:-0.3px;color:#111;transform:scaleX(0.9);-webkit-text-stroke:0.12px #111">7%</div>
<div class="t" style="left:1166.70px;width:300px;text-align:center;top:656.30px;font-family:'Liberation Mono',monospace;font-size:16.7px;line-height:20px;letter-spacing:-0.3px;color:#111;transform:scaleX(0.9);-webkit-text-stroke:0.12px #111">-</div>
<div class="t" style="left:1266.70px;width:300px;text-align:center;top:656.30px;font-family:'Liberation Mono',monospace;font-size:16.7px;line-height:20px;letter-spacing:-0.3px;color:#111;transform:scaleX(0.9);-webkit-text-stroke:0.12px #111">8%</div>
<div class="t" style="left:1362.60px;width:300px;text-align:center;top:656.30px;font-family:'Liberation Mono',monospace;font-size:16.7px;line-height:20px;letter-spacing:-0.3px;color:#111;transform:scaleX(0.9);-webkit-text-stroke:0.12px #111">-</div>
<div class="t " style="left:849.00px;top:699.60px;font-family:'Liberation Serif',serif;font-size:16.5px;line-height:20px;letter-spacing:0.22px;color:#111">MEDIAN PRICE</div>
<div class="t" style="left:924.50px;width:300px;text-align:center;top:700.60px;font-family:'Liberation Mono',monospace;font-size:16.7px;line-height:20px;letter-spacing:-0.3px;color:#111;transform:scaleX(0.9);-webkit-text-stroke:0.12px #111">$1,650,000</div>
<div class="t" style="left:1065.30px;width:300px;text-align:center;top:700.60px;font-family:'Liberation Mono',monospace;font-size:16.7px;line-height:20px;letter-spacing:-0.3px;color:#111;transform:scaleX(0.9);-webkit-text-stroke:0.12px #111">$1,705,568</div>
<div class="t" style="left:1166.70px;width:300px;text-align:center;top:700.60px;font-family:'Liberation Mono',monospace;font-size:16.7px;line-height:20px;letter-spacing:-0.3px;color:#111;transform:scaleX(0.9);-webkit-text-stroke:0.12px #111">-3.3%</div>
<div class="t" style="left:1266.70px;width:300px;text-align:center;top:700.60px;font-family:'Liberation Mono',monospace;font-size:16.7px;line-height:20px;letter-spacing:-0.3px;color:#111;transform:scaleX(0.9);-webkit-text-stroke:0.12px #111">$1,620,000</div>
<div class="t" style="left:1362.60px;width:300px;text-align:center;top:700.60px;font-family:'Liberation Mono',monospace;font-size:16.7px;line-height:20px;letter-spacing:-0.3px;color:#111;transform:scaleX(0.9);-webkit-text-stroke:0.12px #111">1.9%</div>
<div class="t " style="left:849.00px;top:742.50px;font-family:'Liberation Serif',serif;font-size:16.5px;line-height:20px;letter-spacing:0.27px;color:#111">AVERAGE PRICE</div>
<div class="t" style="left:924.50px;width:300px;text-align:center;top:743.50px;font-family:'Liberation Mono',monospace;font-size:16.7px;line-height:20px;letter-spacing:-0.3px;color:#111;transform:scaleX(0.9);-webkit-text-stroke:0.12px #111">$2,679,379</div>
<div class="t" style="left:1065.30px;width:300px;text-align:center;top:743.50px;font-family:'Liberation Mono',monospace;font-size:16.7px;line-height:20px;letter-spacing:-0.3px;color:#111;transform:scaleX(0.9);-webkit-text-stroke:0.12px #111">$3,022,675</div>
<div class="t" style="left:1166.70px;width:300px;text-align:center;top:743.50px;font-family:'Liberation Mono',monospace;font-size:16.7px;line-height:20px;letter-spacing:-0.3px;color:#111;transform:scaleX(0.9);-webkit-text-stroke:0.12px #111">-11.4%</div>
<div class="t" style="left:1266.70px;width:300px;text-align:center;top:743.50px;font-family:'Liberation Mono',monospace;font-size:16.7px;line-height:20px;letter-spacing:-0.3px;color:#111;transform:scaleX(0.9);-webkit-text-stroke:0.12px #111">$2,622,840</div>
<div class="t" style="left:1362.60px;width:300px;text-align:center;top:743.50px;font-family:'Liberation Mono',monospace;font-size:16.7px;line-height:20px;letter-spacing:-0.3px;color:#111;transform:scaleX(0.9);-webkit-text-stroke:0.12px #111">2.2%</div>
<div class="t " style="left:849.00px;top:785.80px;font-family:'Liberation Serif',serif;font-size:16.5px;line-height:20px;letter-spacing:0.22px;color:#111">AVERAGE PPSF</div>
<div class="t" style="left:924.50px;width:300px;text-align:center;top:786.80px;font-family:'Liberation Mono',monospace;font-size:16.7px;line-height:20px;letter-spacing:-0.3px;color:#111;transform:scaleX(0.9);-webkit-text-stroke:0.12px #111">$1,743</div>
<div class="t" style="left:1065.30px;width:300px;text-align:center;top:786.80px;font-family:'Liberation Mono',monospace;font-size:16.7px;line-height:20px;letter-spacing:-0.3px;color:#111;transform:scaleX(0.9);-webkit-text-stroke:0.12px #111">$1,766</div>
<div class="t" style="left:1166.70px;width:300px;text-align:center;top:786.80px;font-family:'Liberation Mono',monospace;font-size:16.7px;line-height:20px;letter-spacing:-0.3px;color:#111;transform:scaleX(0.9);-webkit-text-stroke:0.12px #111">-1.3%</div>
<div class="t" style="left:1266.70px;width:300px;text-align:center;top:786.80px;font-family:'Liberation Mono',monospace;font-size:16.7px;line-height:20px;letter-spacing:-0.3px;color:#111;transform:scaleX(0.9);-webkit-text-stroke:0.12px #111">$1,689</div>
<div class="t" style="left:1362.60px;width:300px;text-align:center;top:786.80px;font-family:'Liberation Mono',monospace;font-size:16.7px;line-height:20px;letter-spacing:-0.3px;color:#111;transform:scaleX(0.9);-webkit-text-stroke:0.12px #111">3.2%</div>
<div class="t " style="left:849.00px;top:829.20px;font-family:'Liberation Serif',serif;font-size:16.5px;line-height:20px;letter-spacing:-0.04px;color:#111">AVERAGE SF</div>
<div class="t" style="left:924.50px;width:300px;text-align:center;top:830.20px;font-family:'Liberation Mono',monospace;font-size:16.7px;line-height:20px;letter-spacing:-0.3px;color:#111;transform:scaleX(0.9);-webkit-text-stroke:0.12px #111">1,317</div>
<div class="t" style="left:1065.30px;width:300px;text-align:center;top:830.20px;font-family:'Liberation Mono',monospace;font-size:16.7px;line-height:20px;letter-spacing:-0.3px;color:#111;transform:scaleX(0.9);-webkit-text-stroke:0.12px #111">1,436</div>
<div class="t" style="left:1166.70px;width:300px;text-align:center;top:830.20px;font-family:'Liberation Mono',monospace;font-size:16.7px;line-height:20px;letter-spacing:-0.3px;color:#111;transform:scaleX(0.9);-webkit-text-stroke:0.12px #111">-8.3%</div>
<div class="t" style="left:1266.70px;width:300px;text-align:center;top:830.20px;font-family:'Liberation Mono',monospace;font-size:16.7px;line-height:20px;letter-spacing:-0.3px;color:#111;transform:scaleX(0.9);-webkit-text-stroke:0.12px #111">1,324</div>
<div class="t" style="left:1362.60px;width:300px;text-align:center;top:830.20px;font-family:'Liberation Mono',monospace;font-size:16.7px;line-height:20px;letter-spacing:-0.3px;color:#111;transform:scaleX(0.9);-webkit-text-stroke:0.12px #111">-0.5%</div>
</div>
<div class="tbl">
<div class="rule" style="top:897px"></div>
<div class="rule" style="top:934px"></div>
<div class="t " style="left:849.00px;top:906.30px;font-family:'Liberation Sans',sans-serif;font-size:16px;line-height:20px;font-weight:bold;color:#111;transform:scaleX(0.915);transform-origin:0 0">Co-ops</div>
<div class="t" style="left:928.10px;width:300px;text-align:center;top:905.50px;font-family:'Liberation Sans',sans-serif;font-size:16.7px;line-height:20px;color:#3d3d3d;transform:scaleX(0.9)">Q3 &#39;25</div>
<div class="t" style="left:1071.00px;width:300px;text-align:center;top:905.50px;font-family:'Liberation Sans',sans-serif;font-size:16.7px;line-height:20px;color:#3d3d3d;transform:scaleX(0.9)">Q2 &#39;25</div>
<div class="t" style="left:1167.80px;width:300px;text-align:center;top:905.50px;font-family:'Liberation Sans',sans-serif;font-size:16.7px;line-height:20px;color:#3d3d3d;transform:scaleX(0.9)">%Δ</div>
<div class="t" style="left:1264.40px;width:300px;text-align:center;top:905.50px;font-family:'Liberation Sans',sans-serif;font-size:16.7px;line-height:20px;color:#3d3d3d;transform:scaleX(0.9)">Q3 &#39;24</div>
<div class="t" style="left:1362.20px;width:300px;text-align:center;top:905.50px;font-family:'Liberation Sans',sans-serif;font-size:16.7px;line-height:20px;color:#3d3d3d;transform:scaleX(0.9)">%Δ</div>
<div class="t " style="left:849.00px;top:948.50px;font-family:'Liberation Serif',serif;font-size:16.5px;line-height:20px;letter-spacing:0.20px;color:#111"># SALES</div>
<div class="t" style="left:928.10px;width:300px;text-align:center;top:949.50px;font-family:'Liberation Mono',monospace;font-size:16.7px;line-height:20px;letter-spacing:-0.3px;color:#111;transform:scaleX(0.9);-webkit-text-stroke:0.12px #111">1,586</div>
<div class="t" style="left:1071.00px;width:300px;text-align:center;top:949.50px;font-family:'Liberation Mono',monospace;font-size:16.7px;line-height:20px;letter-spacing:-0.3px;color:#111;transform:scaleX(0.9);-webkit-text-stroke:0.12px #111">1,421</div>
<div class="t" style="left:1167.80px;width:300px;text-align:center;top:949.50px;font-family:'Liberation Mono',monospace;font-size:16.7px;line-height:20px;letter-spacing:-0.3px;color:#111;transform:scaleX(0.9);-webkit-text-stroke:0.12px #111">11.6%</div>
<div class="t" style="left:1264.40px;width:300px;text-align:center;top:949.50px;font-family:'Liberation Mono',monospace;font-size:16.7px;line-height:20px;letter-spacing:-0.3px;color:#111;transform:scaleX(0.9);-webkit-text-stroke:0.12px #111">1,483</div>
<div class="t" style="left:1362.20px;width:300px;text-align:center;top:949.50px;font-family:'Liberation Mono',monospace;font-size:16.7px;line-height:20px;letter-spacing:-0.3px;color:#111;transform:scaleX(0.9);-webkit-text-stroke:0.12px #111">6.9%</div>
<div class="t " style="left:849.00px;top:992.40px;font-family:'Liberation Serif',serif;font-size:16.5px;line-height:20px;letter-spacing:-0.30px;color:#111">SALES VOLUME</div>
<div class="t" style="left:928.10px;width:300px;text-align:center;top:993.40px;font-family:'Liberation Mono',monospace;font-size:16.7px;line-height:20px;letter-spacing:-0.3px;color:#111;transform:scaleX(0.9);-webkit-text-stroke:0.12px #111">$2,303,490,657</div>
<div class="t" style="left:1071.00px;width:300px;text-align:center;top:993.40px;font-family:'Liberation Mono',monospace;font-size:16.7px;line-height:20px;letter-spacing:-0.3px;color:#111;transform:scaleX(0.9);-webkit-text-stroke:0.12px #111">$1,930,219,619</div>
<div class="t" style="left:1167.80px;width:300px;text-align:center;top:993.40px;font-family:'Liberation Mono',monospace;font-size:16.7px;line-height:20px;letter-spacing:-0.3px;color:#111;transform:scaleX(0.9);-webkit-text-stroke:0.12px #111">19.3%</div>
<div class="t" style="left:1264.40px;width:300px;text-align:center;top:993.40px;font-family:'Liberation Mono',monospace;font-size:16.7px;line-height:20px;letter-spacing:-0.3px;color:#111;transform:scaleX(0.9);-webkit-text-stroke:0.12px #111">$2,028,538,207</div>
<div class="t" style="left:1362.20px;width:300px;text-align:center;top:993.40px;font-family:'Liberation Mono',monospace;font-size:16.7px;line-height:20px;letter-spacing:-0.3px;color:#111;transform:scaleX(0.9);-webkit-text-stroke:0.12px #111">13.6%</div>
<div class="t " style="left:849.00px;top:1036.70px;font-family:'Liberation Serif',serif;font-size:16.5px;line-height:20px;letter-spacing:-0.20px;color:#111">AVG. DISCOUNT</div>
<div class="t" style="left:928.10px;width:300px;text-align:center;top:1037.70px;font-family:'Liberation Mono',monospace;font-size:16.7px;line-height:20px;letter-spacing:-0.3px;color:#111;transform:scaleX(0.9);-webkit-text-stroke:0.12px #111">7%</div>
<div class="t" style="left:1071.00px;width:300px;text-align:center;top:1037.70px;font-family:'Liberation Mono',monospace;font-size:16.7px;line-height:20px;letter-spacing:-0.3px;color:#111;transform:scaleX(0.9);-webkit-text-stroke:0.12px #111">8%</div>
<div class="t" style="left:1167.80px;width:300px;text-align:center;top:1037.70px;font-family:'Liberation Mono',monospace;font-size:16.7px;line-height:20px;letter-spacing:-0.3px;color:#111;transform:scaleX(0.9);-webkit-text-stroke:0.12px #111">-</div>
<div class="t" style="left:1264.40px;width:300px;text-align:center;top:1037.70px;font-family:'Liberation Mono',monospace;font-size:16.7px;line-height:20px;letter-spacing:-0.3px;color:#111;transform:scaleX(0.9);-webkit-text-stroke:0.12px #111">7%</div>
<div class="t" style="left:1362.20px;width:300px;text-align:center;top:1037.70px;font-family:'Liberation Mono',monospace;font-size:16.7px;line-height:20px;letter-spacing:-0.3px;color:#111;transform:scaleX(0.9);-webkit-text-stroke:0.12px #111">-</div>
<div class="t " style="left:849.00px;top:1079.60px;font-family:'Liberation Serif',serif;font-size:16.5px;line-height:20px;letter-spacing:0.22px;color:#111">MEDIAN PRICE</div>
<div class="t" style="left:928.10px;width:300px;text-align:center;top:1080.60px;font-family:'Liberation Mono',monospace;font-size:16.7px;line-height:20px;letter-spacing:-0.3px;color:#111;transform:scaleX(0.9);-webkit-text-stroke:0.12px #111">$875,000</div>
<div class="t" style="left:1071.00px;width:300px;text-align:center;top:1080.60px;font-family:'Liberation Mono',monospace;font-size:16.7px;line-height:20px;letter-spacing:-0.3px;color:#111;transform:scaleX(0.9);-webkit-text-stroke:0.12px #111">$865,000</div>
<div class="t" style="left:1167.80px;width:300px;text-align:center;top:1080.60px;font-family:'Liberation Mono',monospace;font-size:16.7px;line-height:20px;letter-spacing:-0.3px;color:#111;transform:scaleX(0.9);-webkit-text-stroke:0.12px #111">1.2%</div>
<div class="t" style="left:1264.40px;width:300px;text-align:center;top:1080.60px;font-family:'Liberation Mono',monospace;font-size:16.7px;line-height:20px;letter-spacing:-0.3px;color:#111;transform:scaleX(0.9);-webkit-text-stroke:0.12px #111">$855,000</div>
<div class="t" style="left:1362.20px;width:300px;text-align:center;top:1080.60px;font-family:'Liberation Mono',monospace;font-size:16.7px;line-height:20px;letter-spacing:-0.3px;color:#111;transform:scaleX(0.9);-webkit-text-stroke:0.12px #111">2.3%</div>
<div class="t " style="left:849.00px;top:1122.90px;font-family:'Liberation Serif',serif;font-size:16.5px;line-height:20px;letter-spacing:0.27px;color:#111">AVERAGE PRICE</div>
<div class="t" style="left:928.10px;width:300px;text-align:center;top:1123.90px;font-family:'Liberation Mono',monospace;font-size:16.7px;line-height:20px;letter-spacing:-0.3px;color:#111;transform:scaleX(0.9);-webkit-text-stroke:0.12px #111">$1,452,390</div>
<div class="t" style="left:1071.00px;width:300px;text-align:center;top:1123.90px;font-family:'Liberation Mono',monospace;font-size:16.7px;line-height:20px;letter-spacing:-0.3px;color:#111;transform:scaleX(0.9);-webkit-text-stroke:0.12px #111">$1,358,353</div>
<div class="t" style="left:1167.80px;width:300px;text-align:center;top:1123.90px;font-family:'Liberation Mono',monospace;font-size:16.7px;line-height:20px;letter-spacing:-0.3px;color:#111;transform:scaleX(0.9);-webkit-text-stroke:0.12px #111">6.9%</div>
<div class="t" style="left:1264.40px;width:300px;text-align:center;top:1123.90px;font-family:'Liberation Mono',monospace;font-size:16.7px;line-height:20px;letter-spacing:-0.3px;color:#111;transform:scaleX(0.9);-webkit-text-stroke:0.12px #111">$1,367,861</div>
<div class="t" style="left:1362.20px;width:300px;text-align:center;top:1123.90px;font-family:'Liberation Mono',monospace;font-size:16.7px;line-height:20px;letter-spacing:-0.3px;color:#111;transform:scaleX(0.9);-webkit-text-stroke:0.12px #111">6.2%</div>
</div>
<div class="t " style="left:1025.00px;top:1188.00px;font-family:'Liberation Sans',sans-serif;font-size:15.5px;line-height:20px;font-style:italic;color:#222;letter-spacing:0.08px">* Includes reported co-op square footage data.</div>
</body></html>
